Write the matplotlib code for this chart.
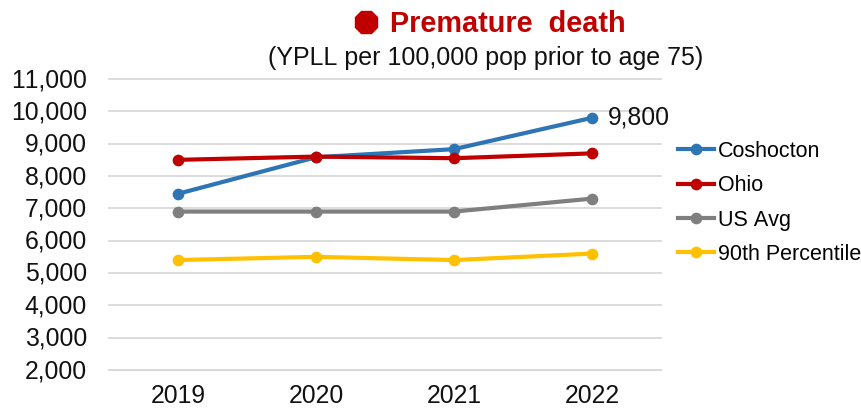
import matplotlib
matplotlib.use("Agg")
import matplotlib.pyplot as plt
from matplotlib.lines import Line2D
from matplotlib.transforms import ScaledTranslation

plt.rcParams["font.family"] = ["Liberation Sans", "DejaVu Sans"]
plt.rcParams["text.kerning_factor"] = 6

years = ["2019", "2020", "2021", "2022"]
coshocton = [7450, 8580, 8830, 9800]
ohio = [8500, 8600, 8550, 8700]
us_avg = [6900, 6900, 6900, 7300]
pct90 = [5400, 5500, 5400, 5600]
y_ticks = [2000, 3000, 4000, 5000, 6000, 7000, 8000, 9000, 10000, 11000]

W, H = 862, 408
LW = 3.0
MS = 7.4
fig = plt.figure(figsize=(W / 100, H / 100), dpi=100)
# axes box from pixel positions of the gridlines
ax = fig.add_axes([109 / W, 1 - 370 / H, (661 - 109) / W, (370 - 79) / H])

x = range(len(years))
ax.plot(x, pct90, color="#FFC000", lw=LW, marker="o", ms=MS, label="90th Percentile", zorder=3)
ax.plot(x, us_avg, color="#7F7F7F", lw=LW, marker="o", ms=MS, label="US Avg", zorder=3)
ax.plot(x, coshocton, color="#2E75B6", lw=LW, marker="o", ms=MS, label="Coshocton", zorder=4)
ax.plot(x, ohio, color="#C00000", lw=LW, marker="o", ms=MS, label="Ohio", zorder=5)

ax.text(3 + 0.115, coshocton[3], "9,800", fontsize=17.8, va="center", ha="left", color="#111111")

ax.set_xlim(-0.5, 3.5)
ax.set_ylim(2000, 11000)
ax.set_xticks(list(x))
ax.set_xticklabels(years)
ax.set_yticks(y_ticks)
ax.set_yticklabels([f"{v:,}" for v in y_ticks])
ax.tick_params(axis="both", length=0, labelsize=17.8, labelcolor="#111111")
ax.tick_params(axis="x", pad=9.8)
ax.tick_params(axis="y", pad=16)
ax.grid(axis="y", color="#D9D9D9", lw=1.3, clip_on=False)
ax.set_axisbelow(True)
for s in ["top", "right", "left"]:
    ax.spines[s].set_visible(False)
ax.spines["bottom"].set_color("#D9D9D9")
ax.spines["bottom"].set_linewidth(1.3)

# y labels sit a touch above their gridlines in the original
nudge = ScaledTranslation(0, 1.5 / 100, fig.dpi_scale_trans)
for lab in ax.get_yticklabels():
    lab.set_transform(lab.get_transform() + nudge)

# legend, spaced by hand to match the original rows
handles, labels = ax.get_legend_handles_labels()
order = [labels.index(n) for n in ["Coshocton", "Ohio", "US Avg", "90th Percentile"]]
fig.legend(
    [Line2D([], [], color=handles[i].get_color(), lw=LW, marker="o", ms=MS) for i in order],
    [labels[i] for i in order],
    loc="center left", bbox_to_anchor=(678 / W, 1 - 203 / H),
    frameon=False, fontsize=15.5, handlelength=1.65, handletextpad=0.2,
    labelspacing=0.62, borderpad=0, borderaxespad=0,
)

# title block
fig.text(390 / W, 1 - 24 / H, "Premature  death", color="#C00000", fontsize=20.8,
         fontweight="bold", va="center", ha="left")
fig.add_artist(Line2D([366.5 / W], [1 - 22 / H], marker="8", ms=17, color="#C00000", ls="none"))
fig.text(485.5 / W, 1 - 58 / H, "(YPLL per 100,000 pop prior to age 75)", fontsize=18,
         color="#111111", va="center", ha="center")

fig.savefig("out.png", dpi=100)
